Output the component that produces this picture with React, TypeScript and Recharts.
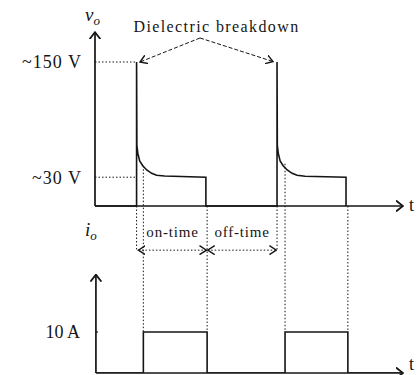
import { ComposedChart, Line, XAxis, YAxis, ReferenceLine, ReferenceDot } from "recharts"

const INK = "#151515"
const SERIF = "'Liberation Serif', 'Times New Roman', serif"

// time in arbitrary units (0..100 along the t axis)
// output voltage v_o, V
const voltT = [0, 13.5, 13.5, 13.6, 13.9, 14.5, 15.5, 16.8, 18.4, 20.0, 22.6, 36.0, 36.0, 59.1, 59.1, 59.2, 59.5, 60.1, 61.1, 62.4, 64.0, 65.6, 68.2, 81.5, 81.5]
const voltV = [0, 0, 150, 63, 55, 47, 42, 37.5, 34, 32, 31.3, 30, 0, 0, 150, 63, 55, 47, 42, 37.5, 34, 32, 31, 30, 0]
// output current i_o, A
const currT = [0, 15.7, 15.7, 36.4, 36.4, 61.7, 61.7, 82.1, 82.1, 100]
const currA = [0, 0, 10, 10, 0, 0, 10, 10, 0, 0]

const breakdownT = [13.5, 59.1]
const dischargeStartT = [15.7, 61.7]
const dischargeStartV = [42, 44]
const dischargeEndT = [36.4, 82.1]
const V_PEAK = 150
const V_ARC = 30
const I_ON = 10
const V_AXIS_TOP = 181
const I_AXIS_TOP = 24
const SPAN_ROW = -46 // row of the on-time / off-time arrows (v units)
const I_ON_ROW = -131.25 // 10 A level, on the v axis
const onSpan = [14.1, 36.2]
const offSpan = [36.6, 58.9]
const labelAnchor = { t: 39.45, v: 181.25 }
const breakdownFrom = { t: 34.1, v: 175 }
const breakdownTips = [{ t: 14.6, v: 150 }, { t: 57.8, v: 150.5 }]

const voltData = voltT.map((t, k) => ({ t, v: voltV[k] }))
const currData = currT.map((t, k) => ({ t, i: currA[k] }))

const seg = (opts: { dash?: string; start?: boolean; end?: boolean; head?: string; width?: number }) => (p: any) => (
  <line
    x1={p.x1} y1={p.y1} x2={p.x2} y2={p.y2}
    stroke={INK} strokeWidth={opts.width ?? 1} strokeDasharray={opts.dash} fill="none"
    markerStart={opts.start ? `url(#${opts.head ?? "small"})` : undefined}
    markerEnd={opts.end ? `url(#${opts.head ?? "small"})` : undefined}
  />
)

const subLabel = (main: string, sub: string, dx: number, dy: number) => (p: any) => {
  const vb = p.viewBox || { x: 0, y: 0 }
  return (
    <text x={vb.x + dx} y={vb.y + dy} fill={INK} fontFamily={SERIF} fontStyle="italic" fontSize={19}>
      {main}
      <tspan fontSize={13} dy={4}>{sub}</tspan>
    </text>
  )
}

// plain text label placed from the label's viewBox, so it can sit a little off the line
const axisName = (name: string, dx: number, dy: number) => (p: any) => {
  const vb = p.viewBox || { x: 0, y: 0 }
  return (
    <text x={vb.x + (vb.width || 0) + dx} y={vb.y + dy} fill={INK} fontFamily={SERIF} fontSize={18}>
      {name}
    </text>
  )
}

const txt = { fill: INK, fontFamily: SERIF, fontSize: 18 }
const DOT = "1.5 2"

export default function App() {
  return (
    <div style={{ position: "absolute", left: 0, top: 0, background: "#fff" }}>
      <ComposedChart width={419} height={375} margin={{ top: 5, right: 16, bottom: 2, left: 95 }}>
        <defs>
          <marker id="big" viewBox="0 0 8 12" refX={7} refY={6} markerWidth={8} markerHeight={12} markerUnits="userSpaceOnUse" orient="auto-start-reverse">
            <path d="M0,0.5 L7,6 L0,11.5" fill="none" stroke={INK} strokeWidth={1.8} />
          </marker>
          <marker id="small" viewBox="0 0 8 10" refX={7} refY={5} markerWidth={8} markerHeight={10} markerUnits="userSpaceOnUse" orient="auto-start-reverse">
            <path d="M0,0.5 L7,5 L0,9.5" fill="none" stroke={INK} strokeWidth={1.4} />
          </marker>
        </defs>
        <XAxis dataKey="t" type="number" domain={[0, 100]} allowDataOverflow hide />
        <YAxis yAxisId="v" type="number" domain={[-173.96, 209.375]} allowDataOverflow hide />
        <YAxis yAxisId="i" type="number" domain={[0, 89.76]} allowDataOverflow hide />

        {/* axes */}
        <ReferenceLine yAxisId="v" segment={[{ x: 0, y: 0 }, { x: 100, y: 0 }]} shape={seg({ end: true, head: "big", width: 1.7 })} label={axisName("t", 6, 5)} />
        <ReferenceLine yAxisId="v" segment={[{ x: 0, y: 0 }, { x: 0, y: V_AXIS_TOP }]} shape={seg({ end: true, head: "big", width: 1.7 })} label={subLabel("v", "o", -10, -11)} />
        <ReferenceLine yAxisId="i" segment={[{ x: 0.3, y: 0 }, { x: 100, y: 0 }]} shape={seg({ end: true, head: "big", width: 1.7 })} label={axisName("t", 6, -3)} />
        <ReferenceLine yAxisId="i" segment={[{ x: 0.3, y: 0 }, { x: 0.3, y: I_AXIS_TOP }]} shape={seg({ end: true, head: "big", width: 1.7 })} label={subLabel("i", "o", -11, -39)} />

        {/* level guides */}
        <ReferenceLine yAxisId="v" segment={[{ x: 0, y: V_PEAK }, { x: breakdownT[0], y: V_PEAK }]} shape={seg({ dash: DOT })} label={{ value: "~150 V", position: "left", offset: 13, ...txt, style: { letterSpacing: 1 } }} />
        <ReferenceLine yAxisId="v" segment={[{ x: 0, y: V_ARC }, { x: breakdownT[0], y: V_ARC }]} shape={seg({ dash: DOT })} label={{ value: "~30 V", position: "left", offset: 13, ...txt, style: { letterSpacing: 1 } }} />
        <ReferenceLine yAxisId="i" segment={[{ x: 0.3, y: I_ON }, { x: 1, y: I_ON }]} shape={seg({ width: 1.2 })} label={{ value: "10 A", position: "left", offset: 16, ...txt }} />

        {/* timing guides */}
        {breakdownT.map((t) => (
          <ReferenceLine key={`b${t}`} yAxisId="v" segment={[{ x: t, y: 0 }, { x: t, y: SPAN_ROW }]} shape={seg({ dash: DOT })} />
        ))}
        {dischargeStartT.map((t, k) => (
          <ReferenceLine key={`s${t}`} yAxisId="v" segment={[{ x: t, y: dischargeStartV[k] }, { x: t, y: I_ON_ROW }]} shape={seg({ dash: DOT })} />
        ))}
        {dischargeEndT.map((t) => (
          <ReferenceLine key={`e${t}`} yAxisId="v" segment={[{ x: t, y: 0 }, { x: t, y: I_ON_ROW }]} shape={seg({ dash: DOT })} />
        ))}
        <ReferenceLine yAxisId="v" segment={[{ x: onSpan[0], y: SPAN_ROW }, { x: onSpan[1], y: SPAN_ROW }]} shape={seg({ dash: DOT, start: true, end: true })} label={{ value: "on-time", position: "top", offset: 13, ...txt, fontSize: 15, style: { letterSpacing: 0.8 } }} />
        <ReferenceLine yAxisId="v" segment={[{ x: offSpan[0], y: SPAN_ROW }, { x: offSpan[1], y: SPAN_ROW }]} shape={seg({ dash: DOT, start: true, end: true })} label={{ value: "off-time", position: "top", offset: 13, ...txt, fontSize: 15, style: { letterSpacing: 0.8 } }} />

        {/* breakdown annotation */}
        {breakdownTips.map((tip) => (
          <ReferenceLine key={`d${tip.t}`} yAxisId="v" segment={[{ x: breakdownFrom.t, y: breakdownFrom.v }, { x: tip.t, y: tip.v }]} shape={seg({ dash: "4 2", end: true })} />
        ))}
        <ReferenceDot yAxisId="v" x={labelAnchor.t} y={labelAnchor.v} r={0} fill="none" stroke="none" ifOverflow="visible" label={{ value: "Dielectric breakdown", position: "top", offset: 0, ...txt, fontSize: 16, style: { letterSpacing: 1.4 } }} />

        <Line yAxisId="v" data={voltData} dataKey="v" type="linear" stroke={INK} strokeWidth={1.6} dot={false} activeDot={false} isAnimationActive={false} />
        <Line yAxisId="i" data={currData} dataKey="i" type="linear" stroke={INK} strokeWidth={1.6} dot={false} activeDot={false} isAnimationActive={false} />
      </ComposedChart>
    </div>
  )
}
